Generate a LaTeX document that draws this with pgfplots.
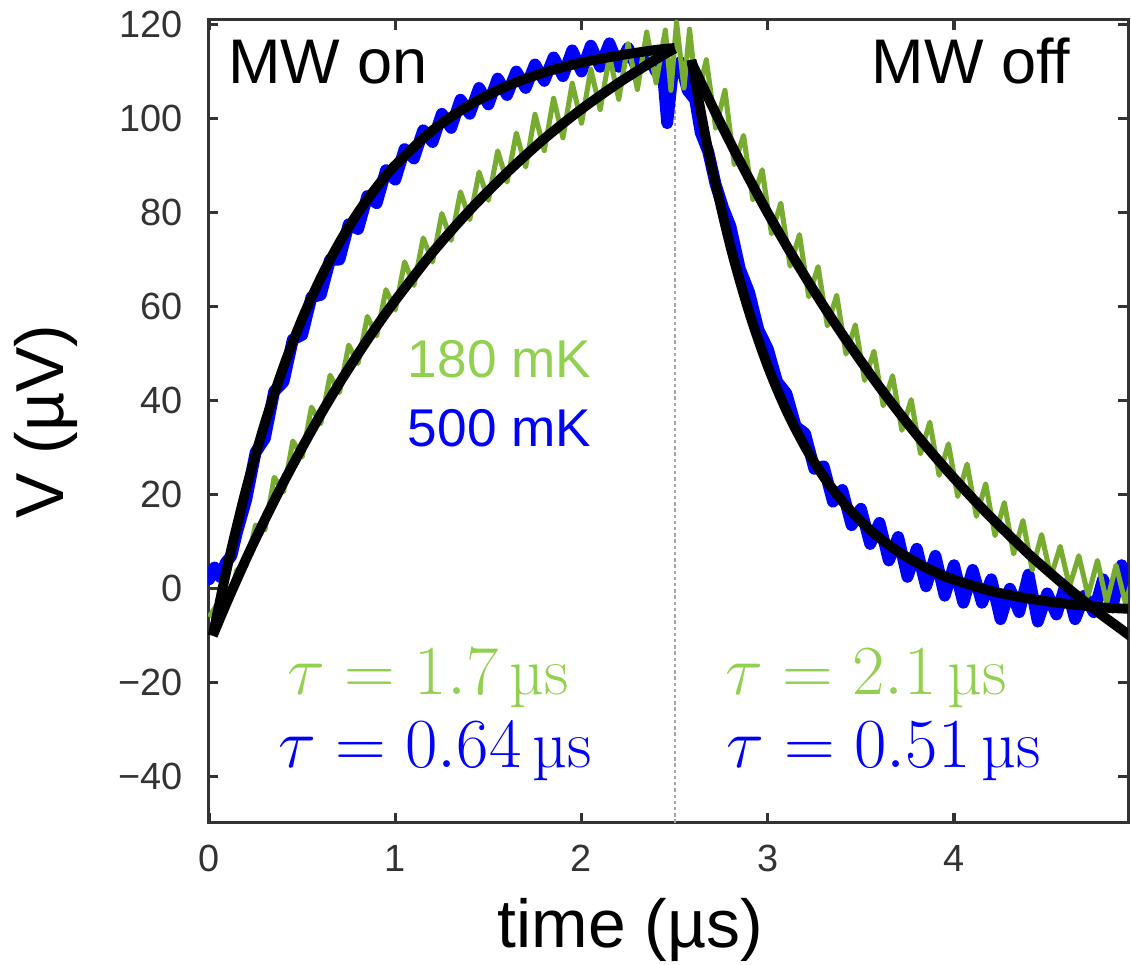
\documentclass[border=0pt]{standalone}
\usepackage{fontspec}
\setmainfont{Liberation Sans}
\newfontfamily\lmr{Latin Modern Roman}
\usepackage{pgfplots}
\pgfplotsset{compat=1.18}
\usetikzlibrary{calc}
\definecolor{mblue}{HTML}{0000FF}
\definecolor{mgreen}{HTML}{77AC30}
\definecolor{lgreen}{HTML}{92D050}
\definecolor{axgray}{HTML}{333333}
\begin{document}
\begin{tikzpicture}
\begin{axis}[
  name=ax,
  scale only axis, width=325.4pt, height=284pt,
  xmin=-0.005, xmax=4.935, ymin=-49.8, ymax=121,
  xtick={0,1,2,3,4}, xticklabels={0,1,2,3,4},
  ytick={-40,-20,0,20,40,60,80,100,120},
  yticklabels={−40,−20,0,20,40,60,80,100,120},
  tick align=inside, major tick length=3.5pt,
  axis line style={axgray, line width=1.1pt},
  tick style={axgray, line width=1.1pt},
  tick label style={font=\fontsize{13.4}{16}\selectfont, text=black!80},
  xticklabel style={anchor=north, inner sep=0pt, yshift=-7.8pt},
  yticklabel style={anchor=east, inner sep=0pt, xshift=-8.8pt},
  xlabel={time (µs)}, ylabel={V (µV)},
  label style={font=\fontsize{24}{28}\selectfont},
  xlabel style={at={(axis description cs:0.459,-0.1557)}, anchor=base},
  ylabel style={at={(axis description cs:-0.1576,0.5)}, anchor=base},
]
% marker at t = 2.5 us
\addplot[gray!70, line width=0.6pt, dash pattern=on 1.2pt off 1pt] coordinates {(2.5,-49.8) (2.5,105)};

% 500 mK data
\addplot[mblue, line width=4.2pt, line join=round, line cap=round] coordinates {
(0,2) (0.03,4.5) (0.06,2.5) (0.09,5.5) (0.12,7) (0.15,12) (0.2,19) (0.25,29) (0.3,32) (0.35,42)
(0.4,44) (0.45,53) (0.5,54) (0.55,62) (0.6,62.5) (0.65,70) (0.7,70) (0.75,77.5) (0.8,76.5) (0.85,83.5)
(0.9,82) (0.95,89) (1,87) (1.05,93.5) (1.1,91.5) (1.15,97.5) (1.2,95) (1.25,101) (1.3,98) (1.35,104)
(1.4,101) (1.45,106.5) (1.5,103) (1.55,108.5) (1.6,105) (1.65,110) (1.7,106.5) (1.75,111.5) (1.8,108)
(1.85,113) (1.9,109) (1.95,114.5) (2,110) (2.05,115.5) (2.1,111) (2.15,116) (2.2,111) (2.25,115)
(2.3,110.5) (2.35,114) (2.4,110) (2.43,113) (2.46,99) (2.49,110) (2.53,112) (2.57,106) (2.61,104)
(2.64,97) (2.68,93) (2.72,86) (2.76,81) (2.8,77) (2.85,68) (2.9,63) (2.95,55) (3,51) (3.05,44)
(3.1,41.5) (3.15,34.5) (3.2,33) (3.25,25.5) (3.3,26) (3.35,18.5) (3.4,21) (3.45,13.5) (3.5,17)
(3.55,9.5) (3.6,14) (3.65,6) (3.7,11) (3.75,2.5) (3.8,8.5) (3.85,0.5) (3.9,7) (3.95,-1.5) (4,5)
(4.05,-3) (4.1,4) (4.15,-3) (4.2,2) (4.25,-6.5) (4.3,0) (4.35,-5) (4.4,3) (4.45,-7) (4.5,-1)
(4.55,-5.5) (4.6,1) (4.65,-6.5) (4.7,-1.5) (4.75,-5) (4.8,2) (4.85,-4) (4.9,5) (4.95,-2)};

% 180 mK data
\addplot[mgreen, line width=1.8pt, line join=round] coordinates {
(0,-6) (0.05,-3) (0.1,-3.5) (0.15,4) (0.2,5) (0.25,13.5) (0.3,12.5) (0.35,23.7) (0.4,20.6) (0.45,31.4)
(0.5,28) (0.55,38.6) (0.6,35.1) (0.65,45.4) (0.7,41.7) (0.75,51.8) (0.8,47.9) (0.85,57.9) (0.9,53.8)
(0.95,63.6) (1,59.3) (1.05,69.5) (1.1,64.5) (1.15,74.6) (1.2,69.5) (1.25,79.8) (1.3,74.1) (1.35,84.4)
(1.4,78.5) (1.45,88.6) (1.5,82.6) (1.55,93.1) (1.6,86.5) (1.65,96.9) (1.7,89.7) (1.75,100.9) (1.8,93.2)
(1.85,104.3) (1.9,95.9) (1.95,107.5) (2,99) (2.05,110.5) (2.1,101.9) (2.15,113.3) (2.2,104.1)
(2.25,115.9) (2.3,106.2) (2.35,118.4) (2.4,107.6) (2.45,118.8) (2.48,106) (2.51,120.5) (2.55,106.5)
(2.58,119) (2.62,104) (2.67,112.5) (2.72,98) (2.77,106) (2.82,90.2) (2.87,96.4) (2.92,82.7) (2.97,89.1)
(3.02,75.5) (3.07,82) (3.12,68.6) (3.17,75.3) (3.22,62.1) (3.27,68.5) (3.32,55.9) (3.37,62.4)
(3.42,49.9) (3.47,56.1) (3.52,44.3) (3.57,50.5) (3.62,38.9) (3.67,45.3) (3.72,33.7) (3.77,40.2)
(3.82,28.7) (3.87,35.4) (3.92,24.1) (3.97,30.8) (4.02,19.6) (4.07,26.5) (4.12,15.4) (4.17,22.3)
(4.22,11.3) (4.27,18.3) (4.32,7.4) (4.37,14.5) (4.42,4) (4.47,11.5) (4.52,2.5) (4.57,9) (4.62,0.5)
(4.67,7) (4.72,-1.5) (4.77,6) (4.82,-3) (4.87,5) (4.92,-3) (4.95,1)};

% exponential fits
\addplot[black, line width=3.5pt, smooth] coordinates {
(0.02,-10) (0.1,5) (0.2,21.3) (0.3,35.2) (0.4,47.2) (0.5,57.4) (0.6,66.1) (0.7,73.6) (0.8,80)
(0.9,85.4) (1,90.1) (1.2,97.5) (1.4,102.9) (1.6,106.9) (1.8,109.8) (2,111.9) (2.2,113.4) (2.4,114.6) (2.5,115)};
\addplot[black, line width=3.5pt, smooth] coordinates {
(0.02,-10) (0.1,-2.5) (0.2,6.4) (0.3,14.7) (0.4,22.6) (0.5,30) (0.6,37.1) (0.7,43.7) (0.8,49.9)
(0.9,55.8) (1,61.3) (1.2,71.5) (1.4,80.5) (1.6,88.5) (1.8,95.7) (2,102) (2.2,107.6) (2.4,112.6) (2.5,114.9)};
\addplot[black, line width=3.5pt, smooth] coordinates {
(2.59,112.5) (2.65,99.4) (2.7,89.6) (2.8,72.7) (2.9,58.8) (3,47.3) (3.1,37.9) (3.2,30.2) (3.3,23.8)
(3.4,18.6) (3.5,14.3) (3.6,10.8) (3.7,7.9) (3.8,5.5) (3.9,3.5) (4,1.9) (4.2,-0.5) (4.4,-2.1) (4.6,-3.2)
(4.8,-4) (4.95,-4.3)};
\addplot[black, line width=3.5pt, smooth] coordinates {
(2.59,112) (2.7,102.8) (2.8,94.8) (2.9,87.2) (3,79.9) (3.1,73) (3.2,66.4) (3.3,60.1) (3.4,54.1)
(3.5,48.4) (3.6,42.9) (3.7,37.7) (3.8,32.7) (3.9,28) (4,23.5) (4.1,19.2) (4.2,15.1) (4.3,11.2)
(4.4,7.4) (4.5,3.9) (4.6,0.5) (4.7,-2.7) (4.8,-5.8) (4.9,-8.7) (4.95,-10.2)};

\node[font=\fontsize{22.3}{26}\selectfont, anchor=base west] at (axis cs:0.05,107.4) {MW on};
\node[font=\fontsize{22.3}{26}\selectfont, anchor=base west] at (axis cs:3.505,107.4) {MW off};
\node[font=\fontsize{18.8}{22}\selectfont, text=lgreen, anchor=base] at (axis cs:1.56,44.9) {180 mK};
\node[font=\fontsize{18.8}{22}\selectfont, text=mblue, anchor=base] at (axis cs:1.56,30.2) {500 mK};
\node[font=\fontsize{24}{28}\selectfont\lmr, text=lgreen, anchor=base] at (axis cs:1.176,-22.6) {$\tau = 1.7$\,µs};
\node[font=\fontsize{24}{28}\selectfont\lmr, text=mblue, anchor=base] at (axis cs:1.213,-38.1) {$\tau = 0.64$\,µs};
\node[font=\fontsize{24}{28}\selectfont\lmr, text=lgreen, anchor=base] at (axis cs:3.527,-22.6) {$\tau = 2.1$\,µs};
\node[font=\fontsize{24}{28}\selectfont\lmr, text=mblue, anchor=base] at (axis cs:3.623,-38.1) {$\tau = 0.51$\,µs};
\end{axis}
\pgfresetboundingbox
\path ($(ax.south west)+(-73.6pt,-50.2pt)$) rectangle ($(ax.north east)+(1pt,7pt)$);
\end{tikzpicture}
\end{document}
